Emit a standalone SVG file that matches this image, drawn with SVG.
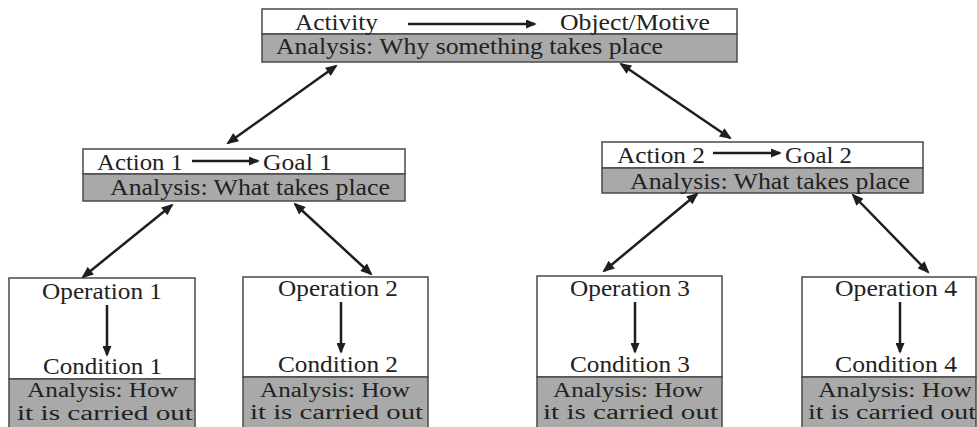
<svg xmlns="http://www.w3.org/2000/svg" width="977" height="427" viewBox="0 0 977 427">
<defs>
<style>
.box{fill:#ffffff;stroke:#4a4a4a;stroke-width:1.5}
.grey{fill:#a9a9a9;stroke:#4a4a4a;stroke-width:1.5}
text{font-family:"Liberation Serif","Times New Roman",serif;fill:#222222;font-size:23px}
.an{font-size:24px}
.sm{font-size:20px}
.conn{stroke:#1e1e1e;stroke-width:2.5;fill:none;marker-start:url(#ah);marker-end:url(#ah)}
.inner{stroke:#1e1e1e;stroke-width:2.5;fill:none;marker-end:url(#ah2)}
</style>
<marker id="ah" viewBox="0 0 12 10" refX="10" refY="5" markerWidth="13" markerHeight="10" markerUnits="userSpaceOnUse" orient="auto-start-reverse">
<path d="M0,0 L12,5 L0,10 z" fill="#1e1e1e"/>
</marker>
<marker id="ah2" viewBox="0 0 12 10" refX="10" refY="5" markerWidth="12" markerHeight="9" markerUnits="userSpaceOnUse" orient="auto">
<path d="M0,0 L12,5 L0,10 z" fill="#1e1e1e"/>
</marker>
</defs>

<g id="activity">
<rect class="box" x="262" y="9" width="475" height="25"/>
<rect class="grey" x="262" y="34" width="475" height="28"/>
<text x="295" y="29.5" textLength="83" lengthAdjust="spacingAndGlyphs">Activity</text>
<line class="inner" x1="408" y1="24" x2="535" y2="24"/>
<text x="560" y="29.5" textLength="150" lengthAdjust="spacingAndGlyphs">Object/Motive</text>
<text class="an" x="276" y="54" textLength="387" lengthAdjust="spacingAndGlyphs">Analysis: Why something takes place</text>
</g>

<g id="action1">
<rect class="box" x="83" y="149" width="322" height="25"/>
<rect class="grey" x="83" y="174" width="322" height="27"/>
<text x="97" y="169.5" textLength="86" lengthAdjust="spacingAndGlyphs">Action 1</text>
<line class="inner" x1="192" y1="161" x2="258" y2="161"/>
<text x="263" y="169.5" textLength="69" lengthAdjust="spacingAndGlyphs">Goal 1</text>
<text class="an" x="110" y="195" textLength="280" lengthAdjust="spacingAndGlyphs">Analysis: What takes place</text>
</g>

<g id="action2">
<rect class="box" x="602" y="142" width="321" height="26"/>
<rect class="grey" x="602" y="168" width="321" height="25"/>
<text x="617" y="162.5" textLength="88" lengthAdjust="spacingAndGlyphs">Action 2</text>
<line class="inner" x1="713" y1="153" x2="780" y2="153"/>
<text x="785" y="162.5" textLength="67" lengthAdjust="spacingAndGlyphs">Goal 2</text>
<text class="an" x="630" y="188.5" textLength="280" lengthAdjust="spacingAndGlyphs">Analysis: What takes place</text>
</g>

<g id="op1">
<rect class="box" x="9" y="278" width="186" height="101"/>
<rect class="grey" x="9" y="379" width="186" height="60"/>
<text x="42" y="299" textLength="120" lengthAdjust="spacingAndGlyphs">Operation 1</text>
<line class="inner" x1="107" y1="305" x2="107" y2="355"/>
<text x="43" y="374" textLength="119" lengthAdjust="spacingAndGlyphs">Condition 1</text>
<text class="sm" x="27" y="397" textLength="151" lengthAdjust="spacingAndGlyphs">Analysis: How</text>
<text class="sm" x="17" y="419.5" textLength="176" lengthAdjust="spacingAndGlyphs">it is carried out</text>
</g>

<g id="op2">
<rect class="box" x="243" y="277" width="185" height="100"/>
<rect class="grey" x="243" y="377" width="185" height="62"/>
<text x="278" y="296" textLength="120" lengthAdjust="spacingAndGlyphs">Operation 2</text>
<line class="inner" x1="341" y1="302" x2="341" y2="352"/>
<text x="278" y="372" textLength="120" lengthAdjust="spacingAndGlyphs">Condition 2</text>
<text class="sm" x="260" y="396.5" textLength="150" lengthAdjust="spacingAndGlyphs">Analysis: How</text>
<text class="sm" x="250" y="419" textLength="173" lengthAdjust="spacingAndGlyphs">it is carried out</text>
</g>

<g id="op3">
<rect class="box" x="537" y="276" width="185" height="101"/>
<rect class="grey" x="537" y="377" width="185" height="62"/>
<text x="570" y="296" textLength="120" lengthAdjust="spacingAndGlyphs">Operation 3</text>
<line class="inner" x1="635" y1="302" x2="635" y2="352"/>
<text x="570" y="372" textLength="120" lengthAdjust="spacingAndGlyphs">Condition 3</text>
<text class="sm" x="553" y="396.5" textLength="150" lengthAdjust="spacingAndGlyphs">Analysis: How</text>
<text class="sm" x="543" y="419" textLength="175" lengthAdjust="spacingAndGlyphs">it is carried out</text>
</g>

<g id="op4">
<rect class="box" x="802" y="277" width="174" height="100"/>
<rect class="grey" x="802" y="377" width="174" height="62"/>
<text x="835" y="296" textLength="122" lengthAdjust="spacingAndGlyphs">Operation 4</text>
<line class="inner" x1="900" y1="302" x2="900" y2="352"/>
<text x="835" y="372" textLength="122" lengthAdjust="spacingAndGlyphs">Condition 4</text>
<text class="sm" x="818" y="396.5" textLength="154" lengthAdjust="spacingAndGlyphs">Analysis: How</text>
<text class="sm" x="808" y="419" textLength="168" lengthAdjust="spacingAndGlyphs">it is carried out</text>
</g>

<g id="connectors">
<line class="conn" x1="336" y1="66" x2="228" y2="143"/>
<line class="conn" x1="621" y1="64" x2="730" y2="138"/>
<line class="conn" x1="172" y1="205" x2="83" y2="277"/>
<line class="conn" x1="295" y1="204" x2="371" y2="274"/>
<line class="conn" x1="697" y1="194" x2="604" y2="271"/>
<line class="conn" x1="853" y1="195" x2="928" y2="272"/>
</g>
</svg>
